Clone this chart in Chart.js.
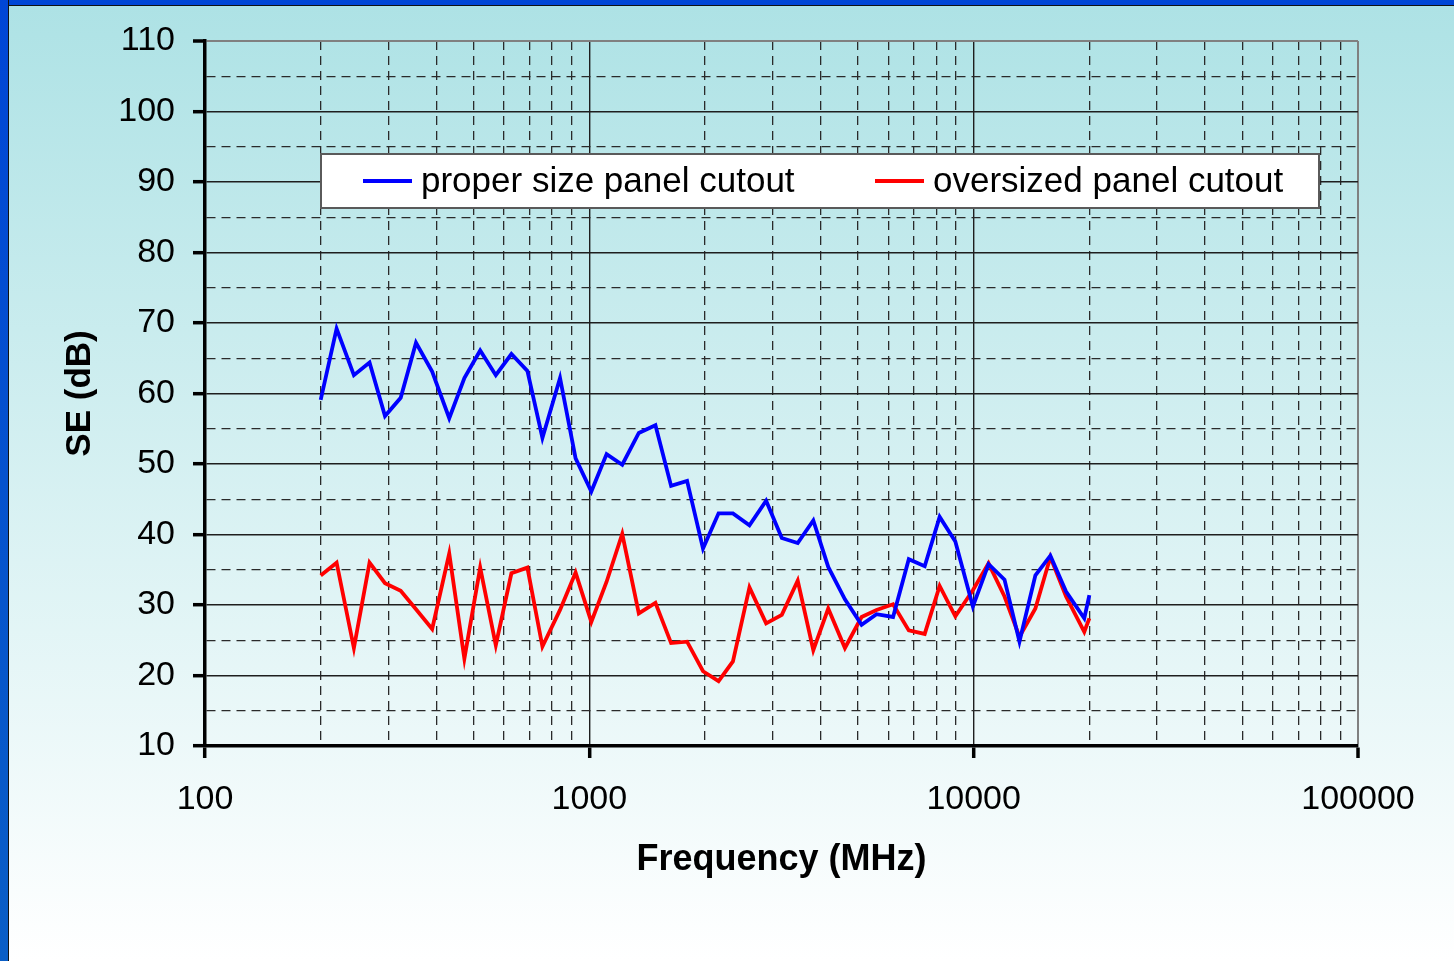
<!DOCTYPE html>
<html>
<head>
<meta charset="utf-8">
<script src="https://cdn.jsdelivr.net/npm/chart.js@4.4.1/dist/chart.umd.min.js"></script>
<style>
    html, body { margin: 0; padding: 0; }
    #frame {
        position: relative;
        width: 1454px;
        height: 961px;
        overflow: hidden;
        background: linear-gradient(to bottom, #ade2e5 0%, #ffffff 100%);
    }
    #topEdge {
        position: absolute; left: 0; top: 0; width: 1454px; height: 5px;
        background: #0046d6; border-bottom: 1px solid #111;
    }
    #leftEdge {
        position: absolute; left: 0; top: 0; width: 8px; height: 961px;
        background: linear-gradient(to bottom, #0046d6, #0a5ec6);
        border-right: 1px solid #111;
    }
    canvas { position: absolute; left: 0; top: 0; }
</style>
</head>
<body>
<div id="frame">
    <canvas id="seChart" width="1454" height="961"></canvas>
    <div id="topEdge"></div>
    <div id="leftEdge"></div>
</div>
<script>
// Measured frequencies (MHz) and shielding effectiveness (dB)
const freqMHz = [200, 220, 244, 268, 294, 323, 354, 390, 432, 473,
    520, 571, 627, 690, 755, 839, 921, 1012, 1109, 1218,
    1345, 1486, 1632, 1796, 1976, 2169, 2364, 2610, 2884, 3168,
    3485, 3826, 4184, 4624, 5109, 5588, 6170, 6779, 7458, 8156,
    8960, 9953, 10932, 12030, 13157, 14474, 15833, 17394, 19400, 20000];

const properSE = [59.1, 69.2, 62.6, 64.4, 56.8, 59.4, 67.2, 63.1, 56.5, 62.2,
    66.1, 62.6, 65.6, 63.2, 53.7, 62.2, 50.8, 46.1, 51.4, 49.9,
    54.4, 55.5, 46.9, 47.6, 38.0, 43.0, 43.0, 41.3, 44.8, 39.5,
    38.8, 42.0, 35.4, 30.8, 27.2, 28.7, 28.3, 36.5, 35.5, 42.5,
    39.0, 29.8, 35.8, 33.6, 24.8, 34.2, 37.0, 31.9, 28.1, 31.4];

const oversizedSE = [34.2, 36.0, 23.9, 36.0, 33.1, 32.0, 29.4, 26.6, 37.3, 22.4,
    35.3, 24.3, 34.5, 35.3, 24.1, 29.3, 34.6, 27.6, 33.3, 40.1,
    28.8, 30.3, 24.6, 24.8, 20.6, 19.2, 22.0, 32.5, 27.4, 28.6,
    33.45, 23.6, 29.5, 23.9, 28.3, 29.3, 30.1, 26.4, 25.9, 32.7,
    28.4, 32.1, 35.9, 31.2, 25.5, 29.5, 36.8, 31.2, 26.2, 28.1];

const seriesLabels = ['proper size panel cutout', 'oversized panel cutout'];
const seriesColors = ['#0000ff', '#ff0000'];

// x grid lines (log scale) and which of them get a label
const xGridValues = [100, 200, 300, 400, 500, 600, 700, 800, 900,
    1000, 2000, 3000, 4000, 5000, 6000, 7000, 8000, 9000,
    10000, 20000, 30000, 40000, 50000, 60000, 70000, 80000, 90000, 100000];
const xTickLabels = ['100', '1000', '10000', '100000'];

const yMin = 10;
const yMax = 110;
const yGridStep = 5;
const yLabelStep = 10;

const FONT = "'Liberation Sans', Arial, sans-serif";
const MINOR_DASH = [9, 6];

function isXMajor(v) {
    return xTickLabels.includes(String(v));
}

function isYMajor(v) {
    return v % yLabelStep === 0;
}

// legend drawn inside the plot, like the original
const insideLegend = {
    id: 'insideLegend',
    afterDatasetsDraw(chart) {
        const ctx = chart.ctx;
        const area = chart.chartArea;
        const boxX = area.left + 116;
        const boxY = 154;
        const boxW = 998;
        const boxH = 54;
        ctx.save();
        ctx.fillStyle = '#ffffff';
        ctx.fillRect(boxX, boxY, boxW, boxH);
        ctx.lineWidth = 2;
        ctx.strokeStyle = '#5a5a5a';
        ctx.strokeRect(boxX, boxY, boxW, boxH);

        const midY = boxY + boxH / 2;
        const itemX = [boxX + 42, boxX + 554];
        ctx.font = '35px ' + FONT;
        ctx.textBaseline = 'middle';
        ctx.textAlign = 'left';
        chart.data.datasets.forEach((ds, i) => {
            ctx.strokeStyle = ds.borderColor;
            ctx.lineWidth = 3.8;
            ctx.beginPath();
            ctx.moveTo(itemX[i], midY);
            ctx.lineTo(itemX[i] + 49, midY);
            ctx.stroke();
            ctx.fillStyle = '#000';
            ctx.fillText(ds.label, itemX[i] + 58, midY + 1);
        });
        ctx.restore();
    }
};

const ctx = document.getElementById('seChart').getContext('2d');
new Chart(ctx, {
    type: 'line',
    data: {
        datasets: [properSE, oversizedSE].map((values, i) => ({
            label: seriesLabels[i],
            data: freqMHz.map((f, j) => ({ x: f, y: values[j] })),
            borderColor: seriesColors[i],
            backgroundColor: seriesColors[i],
            borderWidth: 3.8,
            pointRadius: 0,
            tension: 0,
            fill: false
        }))
    },
    options: {
        responsive: false,
        animation: false,
        layout: { padding: { left: 0, top: 41, right: 96, bottom: 0 } },
        plugins: {
            legend: { display: false },
            tooltip: { enabled: false }
        },
        scales: {
            x: {
                type: 'logarithmic',
                min: 100,
                max: 100000,
                afterBuildTicks: scale => {
                    scale.ticks = xGridValues.map(v => ({ value: v }));
                },
                afterFit: scale => { scale.height = 215; },
                ticks: {
                    autoSkip: false,
                    maxRotation: 0,
                    padding: 21,
                    color: '#000',
                    font: { family: FONT, size: 34 },
                    callback: v => isXMajor(v) ? String(v) : ''
                },
                grid: {
                    color: c => {
                        if (!c.tick) return '#333';
                        if (c.tick.value === 100000) return '#808080';
                        return isXMajor(c.tick.value) ? '#1e1e1e' : '#2a2a2a';
                    },
                    lineWidth: c => (c.tick && c.tick.value === 100000) ? 2 : (c.tick && isXMajor(c.tick.value) ? 1.4 : 1.3),
                    tickLength: 12,
                    tickWidth: 3.5,
                    tickColor: c => (c.tick && isXMajor(c.tick.value)) ? '#000' : 'rgba(0,0,0,0)'
                },
                border: {
                    display: true,
                    color: '#000',
                    width: 3.5,
                    dash: c => (c.tick && !isXMajor(c.tick.value)) ? MINOR_DASH : []
                },
                title: {
                    display: true,
                    text: 'Frequency (MHz)',
                    color: '#000',
                    font: { family: FONT, size: 36, weight: 'bold' },
                    padding: { top: 0, bottom: 79 }
                }
            },
            y: {
                min: yMin,
                max: yMax,
                afterFit: scale => { scale.width = 205; },
                ticks: {
                    stepSize: yGridStep,
                    autoSkip: false,
                    padding: 18,
                    color: '#000',
                    font: { family: FONT, size: 34 },
                    callback: v => isYMajor(v) ? String(v) : ''
                },
                grid: {
                    color: c => {
                        if (!c.tick) return '#333';
                        if (c.tick.value === yMax) return '#808080';
                        return isYMajor(c.tick.value) ? '#1e1e1e' : '#2a2a2a';
                    },
                    lineWidth: c => (c.tick && c.tick.value === yMax) ? 2 : (c.tick && isYMajor(c.tick.value) ? 1.4 : 1.3),
                    tickLength: 12,
                    tickWidth: 3.5,
                    tickColor: c => (c.tick && isYMajor(c.tick.value)) ? '#000' : 'rgba(0,0,0,0)'
                },
                border: {
                    display: true,
                    color: '#000',
                    width: 3.5,
                    dash: c => (c.tick && !isYMajor(c.tick.value)) ? MINOR_DASH : []
                },
                title: {
                    display: true,
                    text: 'SE (dB)',
                    color: '#000',
                    font: { family: FONT, size: 35, weight: 'bold' },
                    padding: { top: 59, bottom: 0 }
                }
            }
        }
    },
    plugins: [insideLegend]
});
</script>
</body>
</html>
